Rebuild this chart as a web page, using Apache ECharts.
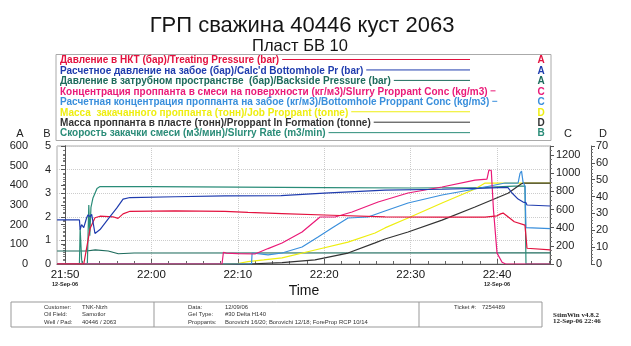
<!DOCTYPE html>
<html><head><meta charset="utf-8">
<script src="https://cdn.jsdelivr.net/npm/echarts@6/dist/echarts.min.js"></script>
<style>html,body{margin:0;padding:0;background:#fff}#c{width:631px;height:346px}</style>
</head><body><div id="c"></div>
<script>
// ---------- data ----------
const tickLabels = ['21:50','22:00','22:10','22:20','22:30','22:40'];
const dateLabel = '12-Sep-06';

const treatingTime = ['21:49:05','21:52:10','21:52:25','21:52:54','21:53:28','21:54:03','21:55:33','21:56:08','21:56:43','21:57:31','22:02:44','22:08:30','22:11:10','22:15:07','22:20:54','22:27:02','22:33:38','22:38:37','22:40:00','22:40:25','22:40:42','22:41:16','22:42:00','22:43:14','22:43:21','22:43:28','22:46:10'];
const treatingBar = [0,0,60,180,235,243,240,232,255,268,270,268,262,256,248,240,238,238,245,255,259,240,215,198,195,80,72];

const bhPressTime = ['21:49:05','21:51:40','21:51:45','21:51:55','21:52:10','21:52:30','21:52:40','21:52:54','21:53:05','21:53:28','21:54:03','21:55:00','21:56:00','21:56:43','21:57:31','22:02:44','22:08:30','22:15:00','22:20:00','22:27:02','22:33:38','22:38:37','22:40:56','22:41:16','22:41:44','22:42:26','22:43:01','22:43:21','22:43:28','22:46:10'];
const bhPressBar = [224,224,175,200,185,235,250,240,252,155,175,230,285,330,338,342,346,348,360,376,380,386,390,388,361,330,315,312,300,295];

const backsideTime = ['21:49:05','21:52:30','21:53:30','21:55:00','21:56:10','21:58:00','22:46:10'];
const backsideBar = [66,66,72,66,52,56,57];

const slurryConcTime = ['21:49:05','22:08:10','22:08:20','22:08:40','22:10:00','22:11:59','22:13:30','22:15:07','22:17:26','22:19:31','22:21:15','22:23:13','22:26:14','22:29:42','22:33:38','22:37:27','22:38:50','22:39:04','22:39:20','22:39:35','22:40:00','22:40:35','22:41:00','22:46:10'];
const slurryConc = [0,0,130,120,115,110,170,231,352,518,518,573,683,782,848,925,935,1036,1030,600,120,20,0,0];

const bhConcTime = ['21:49:05','22:11:35','22:11:39','22:13:30','22:15:07','22:17:26','22:19:17','22:20:54','22:22:45','22:25:04','22:27:02','22:29:42','22:33:38','22:37:27','22:38:37','22:40:56','22:42:26','22:42:40','22:42:50','22:43:01','22:43:14','22:43:21','22:46:10'];
const bhConc = [0,0,121,100,121,187,297,397,507,518,584,672,760,826,848,892,892,1000,1024,900,860,400,390];

const jobPropTime = ['21:49:05','22:08:31','22:10:00','22:11:11','22:13:00','22:15:07','22:18:56','22:22:45','22:25:53','22:27:02','22:29:42','22:33:38','22:37:27','22:38:37','22:46:10'];
const jobProp = [0,0,0.3,1.4,2.4,3.6,8.3,13,18.4,21.4,27.3,36.2,44.5,48,48];

const formPropTime = ['21:49:05','22:11:11','22:15:07','22:18:56','22:22:45','22:25:53','22:27:02','22:29:42','22:33:38','22:37:27','22:41:16','22:42:47','22:43:01','22:46:10'];
const formProp = [0,0,0.8,2.4,6.5,12.5,14.8,19,26,33.8,42,47.5,48,48];

const rateTime = ['21:49:05','21:51:40','21:51:45','21:51:55','21:52:00','21:52:35','21:52:45','21:52:52','21:53:00','21:53:14','21:53:42','21:54:03','22:00:00','22:10:00','22:20:00','22:30:00','22:38:00','22:42:00','22:43:14','22:43:21','22:46:10'];
const rateM3 = [0,0,1.5,0.2,0,0,2.5,1.2,2.4,2.8,3.2,3.28,3.28,3.26,3.24,3.22,3.24,3.3,3.3,0,0];

const legendNames = [
  'Давление в НКТ (бар)/Treating Pressure (bar)',
  "Расчетное давление на забое (бар)/Calc'd Bottomhole Pr (bar)",
  'Давление в затрубном пространстве  (бар)/Backside Pressure (bar)',
  'Концентрация проппанта в смеси на поверхности (кг/м3)/Slurry Proppant Conc (kg/m3)',
  'Расчетная концентрация проппанта на забое (кг/м3)/Bottomhole Proppant Conc (kg/m3)',
  'Масса  закачанного проппанта (тонн)/Job Proppant (tonne)',
  'Масса проппанта в пласте (тонн)/Proppant In Formation (tonne)',
  'Скорость закачки смеси (м3/мин)/Slurry Rate (m3/min)'
];
const legendAxis = ['A','A','A','C','C','D','D','B'];
const colors = ['#e3123f','#1f3cae','#1d6b5c','#ea1a78','#3a8fdc','#eeee10','#333333','#2a8c78'];

// ---------- build ----------
const T0 = 21*60+50;
function toMin(s){const p=s.split(':').map(Number);return p[0]*60+p[1]+(p[2]||0)/60-T0;}
function pairs(ts,vs){return ts.map((t,i)=>[toMin(t),vs[i]]);}
const labelVals = tickLabels.map(s=>toMin(s));
const minorVals = [];
for(let m=0;m<=56;m+=2){minorVals.push(m);}

const seriesDefs = [
  [treatingTime,treatingBar,0],
  [bhPressTime,bhPressBar,0],
  [backsideTime,backsideBar,0],
  [slurryConcTime,slurryConc,2],
  [bhConcTime,bhConc,2],
  [jobPropTime,jobProp,3],
  [formPropTime,formProp,3],
  [rateTime,rateM3,1]
];
const drawOrder = [2,7,5,6,4,3,0,1];
const series = drawOrder.map(i=>({
  name: legendNames[i], type:'line', xAxisIndex:0, yAxisIndex: seriesDefs[i][2],
  data: pairs(seriesDefs[i][0], seriesDefs[i][1]),
  showSymbol:false, symbol:'none', animation:false,
  lineStyle:{color:colors[i], width:1.2}, itemStyle:{color:colors[i]}
}));

const FONT = '"Liberation Sans", Arial, sans-serif';
const axisCommon = {
  axisLine:{show:true,lineStyle:{color:'#555',width:1}},
  axisTick:{show:true,inside:false,length:4,lineStyle:{color:'#555'}},
  minorTick:{show:true,splitNumber:5,length:2,lineStyle:{color:'#777'}},
  axisLabel:{fontSize:11,color:'#222',fontFamily:FONT},
  splitLine:{show:false}
};
function yax(o){return Object.assign({type:'value'},JSON.parse(JSON.stringify(axisCommon)),o);}

const ctx = document.createElement('canvas').getContext('2d');
const legFont = 'bold 10px ' + FONT;
ctx.font = legFont;
const graphics = [];
graphics.push({type:'text',x:302,y:26,style:{text:'ГРП сважина 40446 куст 2063',font:'22px '+FONT,fill:'#151515',align:'center',verticalAlign:'middle'}});
graphics.push({type:'text',x:300,y:46,style:{text:'Пласт БВ 10',font:'16.5px '+FONT,fill:'#151515',align:'center',verticalAlign:'middle'}});
graphics.push({type:'rect',shape:{x:56,y:54.5,width:495,height:86},style:{fill:'none',stroke:'#aaa',lineWidth:1}});
legendNames.forEach((n,i)=>{
  const y = 60.5 + i*10.45;
  graphics.push({type:'text',x:60,y:y,style:{text:n,font:legFont,fill:colors[i],align:'left',verticalAlign:'middle'}});
  const w = ctx.measureText(n).width;
  const x1 = 60 + w + 3;
  const x2 = Math.max(470, x1 + 5);
  graphics.push({type:'line',shape:{x1:x1,y1:y-1,x2:x2,y2:y-1},style:{stroke:colors[i],lineWidth:1}});
  graphics.push({type:'text',x:541,y:y,style:{text:legendAxis[i],font:'bold 10px '+FONT,fill:colors[i],align:'center',verticalAlign:'middle'}});
});
[['A',20],['B',47],['C',568],['D',603]].forEach(a=>{
  graphics.push({type:'text',x:a[1],y:134,style:{text:a[0],font:'11px '+FONT,fill:'#222',align:'center',verticalAlign:'middle'}});
});
graphics.push({type:'text',x:304,y:291,style:{text:'Time',font:'14px '+FONT,fill:'#151515',align:'center',verticalAlign:'middle'}});
// footer
graphics.push({type:'rect',shape:{x:11,y:302,width:531,height:25},style:{fill:'none',stroke:'#999',lineWidth:1}});
graphics.push({type:'line',shape:{x1:154,y1:302,x2:154,y2:327},style:{stroke:'#999',lineWidth:1}});
graphics.push({type:'line',shape:{x1:419,y1:302,x2:419,y2:327},style:{stroke:'#999',lineWidth:1}});
const footFont = '5.9px ' + FONT;
const footRows = [
  ['Customer:','TNK-Nizh','Data:','12/09/06'],
  ['Oil Field:','Samotlor','Gel Type:','#30 Delta H140'],
  ['Well / Pad:','40446 / 2063','Proppants:','Borovichi 16/20; Borovichi 12/18; ForeProp RCP 10/14']
];
footRows.forEach((r,i)=>{
  const y = 307 + i*7.8;
  [[44,r[0]],[82,r[1]],[188,r[2]],[225,r[3]]].forEach(c=>{
    graphics.push({type:'text',x:c[0],y:y,style:{text:c[1],font:footFont,fill:'#333',align:'left',verticalAlign:'middle'}});
  });
});
graphics.push({type:'text',x:454,y:307,style:{text:'Ticket #:',font:footFont,fill:'#333',align:'left',verticalAlign:'middle'}});
graphics.push({type:'text',x:482,y:307,style:{text:'7254489',font:footFont,fill:'#333',align:'left',verticalAlign:'middle'}});
graphics.push({type:'text',x:553,y:315,style:{text:'StimWin v4.8.2',font:'bold 7px "Liberation Serif", serif',fill:'#222',align:'left',verticalAlign:'middle'}});
graphics.push({type:'text',x:553,y:321.5,style:{text:'12-Sep-06 22:46',font:'bold 7px "Liberation Serif", serif',fill:'#222',align:'left',verticalAlign:'middle'}});

const chart = echarts.init(document.getElementById('c'),null,{renderer:'canvas'});
chart.setOption({
  animation:false,
  backgroundColor:'#fff',
  textStyle:{fontFamily:FONT},
  grid:{left:57,right:81,top:146,bottom:82,show:true,borderColor:'#aaa',borderWidth:1,containLabel:false},
  xAxis:[
    {type:'value',min:-0.93,max:56.13,position:'bottom',
     axisLine:{show:true,lineStyle:{color:'#555'}},
     axisTick:{show:true,inside:true,length:5,customValues:labelVals,lineStyle:{color:'#555'}},
     splitLine:{show:true,lineStyle:{color:'#ccc',type:'dotted'}},
     axisLabel:{customValues:labelVals,margin:5,color:'#151515',
       formatter:function(v){
         let i = labelVals.findIndex(x=>Math.abs(x-v)<1e-6);
         if(i<0) return '';
         const s = tickLabels[i];
         if(i===0 || i===tickLabels.length-1) return '{t|'+s+'}\n{d|'+dateLabel+'}';
         return '{t|'+s+'}';
       },
       rich:{t:{fontSize:11.5,lineHeight:12,fontFamily:FONT,color:'#151515'},d:{fontSize:5.5,fontWeight:'bold',lineHeight:6,fontFamily:FONT,color:'#222'}}
     }},
    {type:'value',min:-0.93,max:56.13,position:'bottom',
     axisLine:{show:false},axisLabel:{show:false},splitLine:{show:false},
     axisTick:{show:true,inside:true,length:3,customValues:minorVals,lineStyle:{color:'#666'}}}
  ],
  yAxis:[
    yax({position:'left',offset:24,min:0,max:600,interval:100,axisLabel:{fontSize:11,color:'#222',margin:5,fontFamily:FONT}}),
    yax({position:'left',offset:0,min:0,max:5,interval:1,axisLabel:{fontSize:11,color:'#222',margin:6,fontFamily:FONT},
         splitLine:{show:true,lineStyle:{color:'#ccc',type:'dotted'}}}),
    yax({position:'right',offset:0,min:0,max:1300,interval:200,minorTick:{show:true,splitNumber:4,length:2,lineStyle:{color:'#777'}},
         axisLabel:{fontSize:11,color:'#222',margin:6,fontFamily:FONT,formatter:function(v){return v>1200?'':String(v);}}}),
    yax({position:'right',offset:41,min:0,max:70,interval:10,axisLabel:{fontSize:11,color:'#222',margin:5,fontFamily:FONT}})
  ],
  series:series,
  graphic:graphics
});
</script>
</body></html>
